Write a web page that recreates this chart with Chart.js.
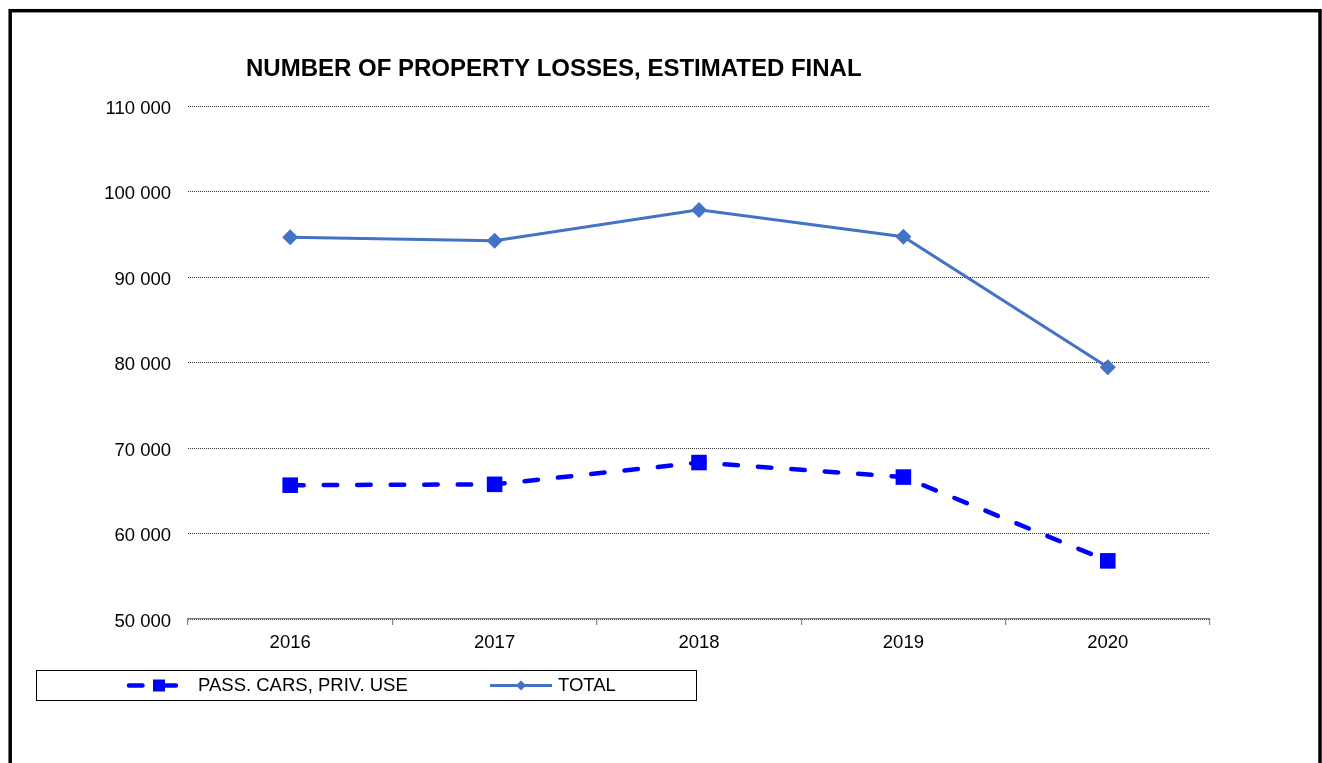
<!DOCTYPE html>
<html>
<head>
<meta charset="utf-8">
<script src="https://cdn.jsdelivr.net/npm/chart.js@4.4.0/dist/chart.umd.min.js"></script>
<style>
  html, body { margin: 0; padding: 0; background: #fff; }
  #wrap { position: relative; width: 1322px; height: 763px; }
  canvas { display: block; }
</style>
</head>
<body>
<div id="wrap"><canvas id="c" width="1322" height="763"></canvas></div>
<script>
const titleText = 'NUMBER OF PROPERTY LOSSES, ESTIMATED FINAL';
const years = ['2016', '2017', '2018', '2019', '2020'];
const passCars = [65650, 65750, 68300, 66600, 56800];
const total = [94650, 94250, 97850, 94700, 79450];
const seriesNames = ['PASS. CARS, PRIV. USE', 'TOTAL'];
const yMin = 50000, yMax = 110000, yStep = 10000;

const FONT = "'Liberation Sans', Arial, sans-serif";
const BLUE = '#0000FF';
const STEEL = '#4472C4';
const DASH = [13.5, 20];

function fmt(v) {
  return String(v).replace(/\B(?=(\d{3})+(?!\d))/g, ' ');
}

const decor = {
  id: 'decor',
  afterDraw(chart) {
    const ctx = chart.ctx;
    ctx.save();
    // outer frame
    ctx.strokeStyle = '#000';
    ctx.lineWidth = 3.5;
    ctx.strokeRect(10.2, 10.7, 1309.8, 900);
    // title
    ctx.fillStyle = '#000';
    ctx.font = 'bold 24px ' + FONT;
    ctx.textBaseline = 'alphabetic';
    ctx.textAlign = 'left';
    ctx.fillText(titleText, 246, 76);
    // legend box
    ctx.lineWidth = 1;
    ctx.strokeStyle = '#000';
    ctx.strokeRect(36.5, 670.5, 660, 30);
    const ly = 685.5;
    // pass cars sample
    ctx.strokeStyle = BLUE;
    ctx.lineWidth = 4.5;
    ctx.lineCap = 'round';
    ctx.setLineDash(DASH);
    ctx.beginPath();
    ctx.moveTo(129, ly);
    ctx.lineTo(176, ly);
    ctx.stroke();
    ctx.setLineDash([]);
    ctx.fillStyle = BLUE;
    ctx.fillRect(153, ly - 6, 12, 12);
    // total sample
    ctx.strokeStyle = STEEL;
    ctx.lineWidth = 3;
    ctx.lineCap = 'butt';
    ctx.beginPath();
    ctx.moveTo(490, ly);
    ctx.lineTo(552, ly);
    ctx.stroke();
    ctx.fillStyle = STEEL;
    ctx.beginPath();
    ctx.moveTo(521 - 5, ly);
    ctx.lineTo(521, ly - 5);
    ctx.lineTo(521 + 5, ly);
    ctx.lineTo(521, ly + 5);
    ctx.closePath();
    ctx.fill();
    // legend texts
    ctx.fillStyle = '#000';
    ctx.font = '18.5px ' + FONT;
    ctx.textBaseline = 'middle';
    ctx.fillText(seriesNames[0], 198, ly);
    ctx.fillText(seriesNames[1], 558, ly);
    ctx.restore();
  }
};

new Chart(document.getElementById('c'), {
  type: 'line',
  data: {
    labels: years,
    datasets: [
      {
        label: seriesNames[0],
        data: passCars,
        borderColor: BLUE,
        backgroundColor: BLUE,
        borderWidth: 4.5,
        borderDash: DASH,
        borderCapStyle: 'round',
        pointStyle: 'rect',
        pointRadius: 11,
        pointBorderWidth: 0,
        pointBackgroundColor: BLUE,
        tension: 0
      },
      {
        label: seriesNames[1],
        data: total,
        borderColor: STEEL,
        backgroundColor: STEEL,
        borderWidth: 3,
        pointStyle: 'rectRot',
        pointRadius: 8,
        pointBorderWidth: 0,
        pointBackgroundColor: STEEL,
        tension: 0
      }
    ]
  },
  options: {
    responsive: false,
    animation: false,
    devicePixelRatio: 1,
    layout: { padding: { left: 0, top: 106, right: 112, bottom: 104 } },
    plugins: {
      legend: { display: false },
      title: { display: false },
      tooltip: { enabled: false }
    },
    scales: {
      x: {
        type: 'category',
        offset: true,
        afterFit(s) { s.height = 40; },
        border: { display: true, color: '#868686', width: 1.2 },
        grid: {
          offset: true,
          drawOnChartArea: false,
          drawTicks: true,
          tickLength: 6,
          color: '#868686',
          lineWidth: 1.2
        },
        ticks: {
          color: '#000',
          font: { family: FONT, size: 18.5 },
          padding: 7,
          maxRotation: 0
        }
      },
      y: {
        min: yMin,
        max: yMax,
        afterFit(s) { s.width = 188; },
        border: { display: false, dash: [1, 1] },
        grid: {
          drawTicks: false,
          color: '#333',
          lineWidth: 1
        },
        ticks: {
          stepSize: yStep,
          color: '#000',
          font: { family: FONT, size: 18.5 },
          padding: 17,
          labelOffset: 2.5,
          callback: v => fmt(v)
        }
      }
    }
  },
  plugins: [decor]
});
</script>
</body>
</html>
